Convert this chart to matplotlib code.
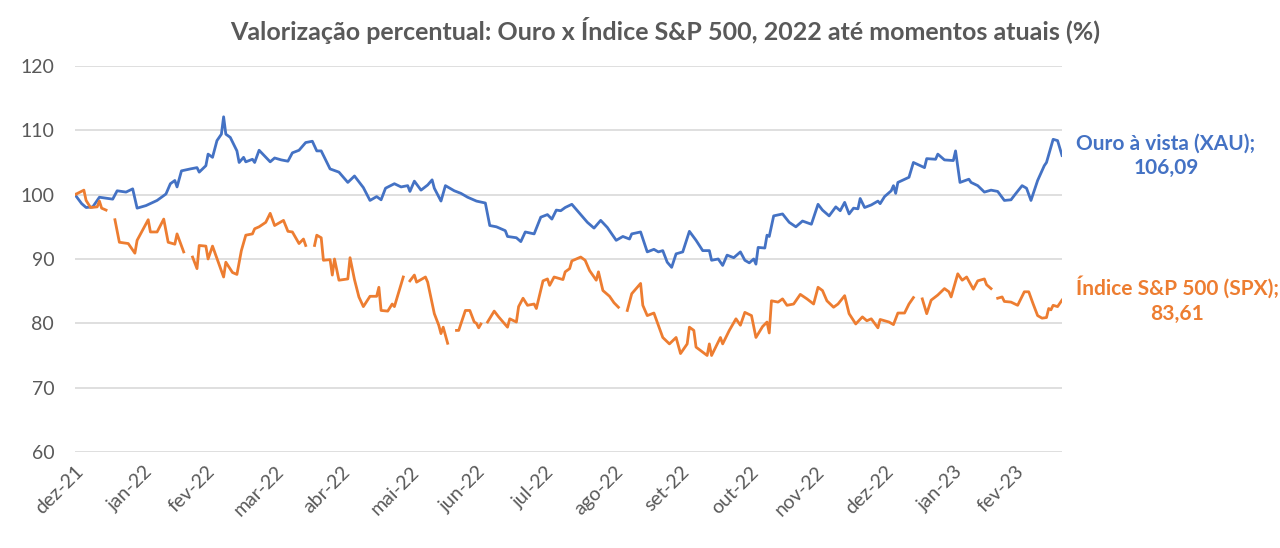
import datetime as dt
import numpy as np
import matplotlib
matplotlib.use("Agg")
import matplotlib.pyplot as plt

plt.rcParams['font.family'] = ['Lato', 'DejaVu Sans']

# dias desde 31/12/2021 e valores (base 100)
inicio = dt.date(2021, 12, 31)

dias_ouro = [0, 3, 5, 8, 11, 17, 19, 23, 26, 28, 32, 37, 41, 43, 45, 46, 48, 52, 55, 56,
             59, 60, 62, 64, 66, 67, 68, 70, 73, 74, 76, 77, 80, 81, 83, 88, 90, 93, 96, 98,
             101, 104, 107, 109, 111, 115, 119, 123, 126, 130, 133, 136, 138, 140, 144, 147, 150, 151, 153, 156,
             159, 161, 162, 165, 167, 171, 174, 177, 181, 185, 187, 190, 194, 195, 199, 201, 203, 207, 210, 213,
             215, 217, 219, 221, 224, 227, 231, 234, 237, 240, 244, 247, 250, 251, 255, 258, 261, 263, 265, 267,
             269, 271, 274, 277, 280, 283, 286, 287, 290, 292, 294, 297, 300, 302, 304, 306, 307, 308, 311, 312,
             313, 315, 319, 322, 325, 328, 332, 335, 337, 340, 343, 345, 347, 349, 351, 353, 354, 356, 359, 362,
             363, 365, 368, 369, 370, 371, 376, 378, 383, 384, 388, 389, 392, 396, 397, 399, 403, 404, 407, 410,
             413, 416, 419, 422, 424, 427, 429, 431, 434, 437, 438, 441, 443, 445]
ouro = [100.0, 98.6, 98.0, 98.1, 99.6, 99.3, 100.6, 100.4, 100.9, 97.9, 98.3, 99.1, 100.1, 101.7, 102.2, 101.2, 103.7, 104.0, 104.2, 103.5,
        104.5, 106.3, 105.8, 108.4, 109.4, 112.1, 109.4, 108.9, 106.8, 105.0, 105.8, 105.1, 105.5, 105.0, 106.9, 105.1, 105.7, 105.4, 105.2, 106.5,
        106.9, 108.1, 108.3, 106.8, 106.8, 104.0, 103.5, 101.9, 102.9, 101.1, 99.1, 99.7, 99.2, 101.0, 101.7, 101.2, 101.4, 100.5, 102.1, 100.7,
        101.5, 102.3, 101.0, 99.0, 101.4, 100.6, 100.2, 99.6, 99.0, 98.7, 95.2, 95.0, 94.4, 93.5, 93.3, 92.7, 94.2, 93.9, 96.5, 96.9,
        96.2, 97.6, 97.5, 98.0, 98.5, 97.3, 95.7, 94.8, 96.0, 94.9, 92.9, 93.5, 93.1, 93.9, 94.2, 91.1, 91.5, 91.1, 91.3, 89.5,
        88.7, 90.8, 91.1, 94.3, 92.9, 91.3, 91.3, 89.8, 90.0, 89.0, 90.6, 90.2, 91.1, 89.8, 89.4, 90.0, 89.2, 91.8, 91.7, 93.7,
        93.5, 96.7, 97.0, 95.7, 95.0, 95.9, 95.4, 98.5, 97.6, 96.7, 98.1, 97.5, 98.8, 97.0, 97.9, 97.8, 99.4, 98.0, 98.4, 99.0,
        98.6, 99.7, 100.6, 101.4, 100.2, 101.9, 102.7, 105.0, 104.2, 105.6, 105.5, 106.3, 105.4, 105.3, 106.8, 101.9, 102.4, 101.9, 101.4, 100.4,
        100.7, 100.5, 99.1, 99.2, 100.1, 101.4, 101.0, 99.1, 102.2, 104.5, 105.0, 108.6, 108.4, 106.09]

# nan = feriado nos EUA (linha interrompida)
dias_spx = [0, 4, 5, 7, 10, 11, 12, 14, 15,
            18, 20, 24, 27, 28, 33, 34, 37, 40, 42, 45, 46, 49, 50,
            53, 55, 56, 59, 60, 62, 67, 68, 71, 73, 75, 77, 80, 81, 83, 86, 88, 90, 94, 96, 98, 101, 103, 104, 105,
            108, 109, 111, 112, 115, 116, 117, 119, 123, 124, 126, 128, 130, 133, 136, 137, 138, 141, 143, 144, 148, 149,
            151, 153, 154, 158, 159, 162, 164, 165, 166, 168, 169,
            172, 173, 176, 178, 180, 181, 182, 183, 184,
            186, 189, 191, 195, 196, 199, 200, 202, 204, 207, 208, 211, 213, 214, 216, 220, 221, 223, 224, 228,
            230, 232, 235, 236, 238, 241, 243, 245, 246,
            249, 251, 253, 255, 256, 258, 261, 265, 268, 271, 273, 276, 277, 279, 280, 285, 286, 287, 291, 292,
            295, 298, 300, 302, 305, 307, 310, 312, 313, 314, 317, 319, 321, 324, 327, 330, 333, 335, 337, 339,
            342, 344, 347, 349, 352, 355, 357, 359, 362, 363, 367, 369, 371, 374, 376, 378, 379,
            382, 384, 386, 389, 392, 394, 395, 398, 400, 402, 405, 407, 410, 411, 413, 414,
            416, 418, 419, 422, 425, 428, 430, 432, 434, 436, 438, 439, 440, 441, 443, 445]
spx = [100.0, 100.7, 99.1, 98.0, 98.1, 99.0, 97.9, 97.6, np.nan,
       96.1, 92.6, 92.4, 90.9, 92.9, 96.1, 94.2, 94.2, 96.2, 92.6, 92.3, 93.9, 91.1, np.nan,
       90.3, 88.5, 92.1, 92.0, 90.0, 92.0, 87.2, 89.5, 87.9, 87.6, 91.3, 93.7, 93.9, 94.7, 95.0, 95.7, 97.1, 95.2, 96.0, 94.3, 94.2, 92.4, 93.1, 92.1, np.nan,
       92.1, 93.7, 93.3, 89.8, 89.9, 87.5, 90.0, 86.7, 86.9, 90.2, 86.8, 84.1, 82.6, 84.2, 84.2, 85.6, 82.0, 81.9, 83.0, 82.6, 87.2, np.nan,
       86.6, 87.5, 86.4, 87.2, 86.4, 81.5, 79.7, 78.4, 79.4, 76.9, np.nan,
       78.9, 78.9, 82.0, 82.0, 80.2, 80.0, 79.3, 79.9, np.nan,
       80.2, 81.9, 81.0, 79.4, 80.7, 80.2, 82.6, 83.9, 82.8, 83.0, 82.3, 86.6, 86.9, 85.9, 87.2, 86.8, 88.0, 88.5, 89.7, 90.3,
       89.8, 88.2, 86.7, 88.0, 85.1, 84.2, 83.2, 82.5, np.nan,
       82.0, 84.6, 85.4, 86.2, 82.8, 81.2, 81.6, 77.8, 76.8, 77.8, 75.3, 76.8, 79.4, 78.9, 76.3, 75.0, 76.8, 75.0, 77.8, 76.8,
       78.9, 80.7, 79.7, 81.7, 81.2, 77.8, 79.5, 80.2, 78.5, 83.5, 83.3, 83.8, 82.8, 83.0, 84.5, 83.8, 83.0, 85.6, 85.1, 83.5,
       82.5, 83.0, 84.3, 81.5, 79.9, 81.0, 80.4, 80.7, 79.3, 80.6, 80.2, 79.8, 81.6, 81.6, 83.0, 84.0, np.nan,
       83.8, 81.5, 83.6, 84.4, 85.4, 84.9, 84.1, 87.7, 86.7, 87.2, 85.3, 86.6, 86.9, 86.0, 85.4, np.nan,
       83.9, 84.1, 83.4, 83.3, 82.8, 84.9, 84.9, 83.0, 81.2, 80.8, 80.9, 82.3, 82.1, 82.8, 82.6, 83.61]

meses = ['dez-21', 'jan-22', 'fev-22', 'mar-22', 'abr-22', 'mai-22', 'jun-22', 'jul-22',
         'ago-22', 'set-22', 'out-22', 'nov-22', 'dez-22', 'jan-23', 'fev-23']
fim_meses = ['2021-12-31', '2022-01-31', '2022-02-28', '2022-03-31', '2022-04-30', '2022-05-31',
             '2022-06-30', '2022-07-31', '2022-08-31', '2022-09-30', '2022-10-31', '2022-11-30',
             '2022-12-31', '2023-01-31', '2023-02-28']

azul = '#4472C4'
laranja = '#ED7D31'
cinza = '#595959'

datas_ouro = [inicio + dt.timedelta(days=d) for d in dias_ouro]
datas_spx = [inicio + dt.timedelta(days=d) for d in dias_spx]

fig = plt.figure(figsize=(12.8, 5.48), dpi=100)
ax = fig.add_axes([0.0586, 0.1752, 0.7711, 0.7044])

ax.plot(datas_ouro, ouro, color=azul, lw=2.0)
ax.plot(datas_spx, spx, color=laranja, lw=2.0)

ax.set_ylim(60, 120)
ax.set_yticks(range(60, 121, 10))
ax.set_xlim(inicio, inicio + dt.timedelta(days=445))
ax.set_xticks([dt.date.fromisoformat(s) for s in fim_meses])
ax.set_xticklabels(meses, rotation=45, ha='right', rotation_mode='anchor')

ax.grid(axis='y', color='#D9D9D9', lw=1.2)
ax.set_axisbelow(True)
for s in ax.spines.values():
    s.set_visible(False)
ax.tick_params(length=0, colors=cinza, labelsize=14)
ax.tick_params(axis='y', pad=15)
ax.tick_params(axis='x', pad=8)

fig.text(0.52, 0.945, 'Valorização percentual: Ouro x Índice S&P 500, 2022 até momentos atuais (%)',
         ha='center', va='center', fontsize=18, fontweight='bold', color=cinza)

# rótulos finais das séries
ax.annotate(f'Ouro à vista (XAU);\n{ouro[-1]:.2f}'.replace('.', ','),
            xy=(datas_ouro[-1], ouro[-1]), xytext=(1166, 548 - 156), textcoords='figure pixels',
            ha='center', va='center', fontsize=15, fontweight='bold', color=azul, linespacing=1.3)
ax.annotate(f'Índice S&P 500 (SPX);\n{spx[-1]:.2f}'.replace('.', ','),
            xy=(datas_spx[-1], spx[-1]), xytext=(1177, 548 - 300), textcoords='figure pixels',
            ha='center', va='center', fontsize=15, fontweight='bold', color=laranja, linespacing=1.3)

fig.savefig('out.png', dpi=100)
